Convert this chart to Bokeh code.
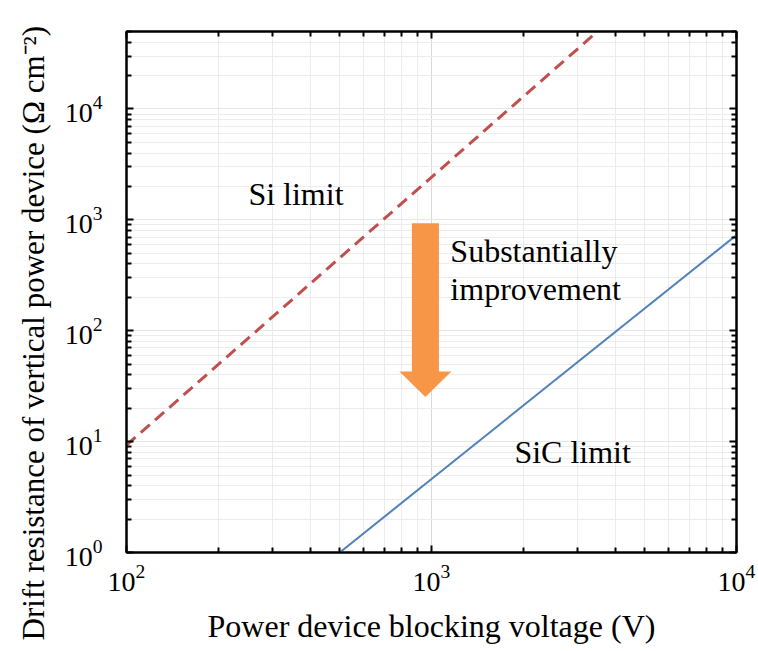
from bokeh.plotting import figure
from bokeh.models import (Range1d, LogAxis, FixedTicker, LogTickFormatter,
                          CustomJSTickFormatter, Label, Title)
from bokeh.embed import file_html
from bokeh.resources import INLINE

# Drift-layer resistance limits (Ω cm^-2) against blocking voltage (V)
si_voltage = [100, 3500]
si_resistance = [9.3, 50000]
sic_voltage = [500, 10000]
sic_resistance = [1.0, 730]

x_major = [1e2, 1e3, 1e4]
y_major = [1e0, 1e1, 1e2, 1e3, 1e4]
x_minor = [m * 10 ** k for k in range(2, 4) for m in range(2, 10)]
y_minor = [m * 10 ** k for k in range(0, 5) for m in range(2, 10) if m * 10 ** k <= 5e4]

# Improvement arrow: centre voltage, shaft top, head base and tip (resistance)
arrow_x = 955
arrow_top = 930
arrow_head_base = 43
arrow_tip = 25.3
shaft_half = 0.0443   # half widths in decades of voltage
head_half = 0.0852

FONT = "Liberation Serif"

p = figure(width=758, height=651, x_axis_type="log", y_axis_type="log",
           x_range=Range1d(100, 10000), y_range=Range1d(1, 5e4),
           output_backend="svg", toolbar_location=None,
           min_border_left=126, min_border_right=22,
           min_border_top=31, min_border_bottom=99)
p.outline_line_color = "black"
p.outline_line_width = 2
p.background_fill_color = "white"
p.border_fill_color = "white"


def style_axis(ax, ticks, minor, labelled=True):
    ax.ticker = FixedTicker(ticks=ticks, minor_ticks=minor)
    ax.axis_line_width = 2
    ax.axis_line_color = "black"
    ax.major_tick_in = 7
    ax.major_tick_out = 0
    ax.minor_tick_in = 5
    ax.minor_tick_out = 0
    ax.major_tick_line_width = 2
    ax.minor_tick_line_width = 2
    ax.major_tick_line_color = "black"
    ax.minor_tick_line_color = "black"
    if labelled:
        ax.formatter = LogTickFormatter()
        ax.major_label_text_font = FONT
        ax.major_label_text_font_size = "28px"
        ax.major_label_text_color = "black"
        ax.axis_label_text_font = FONT
        ax.axis_label_text_font_size = "32px"
        ax.axis_label_text_font_style = "normal"
        ax.axis_label_text_color = "black"
    else:
        ax.formatter = CustomJSTickFormatter(code="return ''")
        ax.major_label_standoff = 0


style_axis(p.xaxis[0], x_major, x_minor)
style_axis(p.yaxis[0], y_major, y_minor)
p.xaxis[0].axis_label = "Power device blocking voltage (V)"
p.xaxis[0].major_label_standoff = 12
p.xaxis[0].axis_label_standoff = 14
p.yaxis[0].major_label_standoff = 24

top_axis = LogAxis()
style_axis(top_axis, x_major, x_minor, labelled=False)
p.add_layout(top_axis, "above")
right_axis = LogAxis()
style_axis(right_axis, y_major, y_minor, labelled=False)
p.add_layout(right_axis, "right")

# Vertical title in the left panel, starting below the frame's bottom edge
y_title = Title(text="Drift resistance of vertical power device (Ω cm⁻²)",
                align="left", offset=-88, standoff=22,
                text_font=FONT, text_font_size="31px",
                text_font_style="normal", text_color="black")
p.add_layout(y_title, "left")

# Grid lines
p.xgrid.ticker = FixedTicker(ticks=x_major, minor_ticks=x_minor)
p.ygrid.ticker = FixedTicker(ticks=y_major, minor_ticks=y_minor)
p.xgrid.grid_line_color = "#d9d9d9"
p.xgrid.minor_grid_line_color = "#ececec"
p.ygrid.grid_line_color = "#e6e6e6"
p.ygrid.minor_grid_line_color = "#ececec"
for g in (p.xgrid, p.ygrid):
    g.grid_line_width = 1
    g.minor_grid_line_width = 1

# Material limits
p.line(si_voltage, si_resistance, line_color="#C0504D", line_width=3,
       line_dash="12 7")
p.line(sic_voltage, sic_resistance, line_color="#4F81BD", line_width=2)

# Downward arrow
lo_s, hi_s = 10 ** -shaft_half, 10 ** shaft_half
lo_h, hi_h = 10 ** -head_half, 10 ** head_half
arrow_xs = [arrow_x * lo_s, arrow_x * hi_s, arrow_x * hi_s, arrow_x * hi_h,
            arrow_x, arrow_x * lo_h, arrow_x * lo_s]
arrow_ys = [arrow_top, arrow_top, arrow_head_base, arrow_head_base,
            arrow_tip, arrow_head_base, arrow_head_base]
p.patch(arrow_xs, arrow_ys, fill_color="#F79646", line_color=None)

# Annotations
for text, x, y in [("Si limit", 251, 1710),
                   ("Substantially", 1153, 524),
                   ("improvement", 1153, 236),
                   ("SiC limit", 1870, 8.1)]:
    p.add_layout(Label(x=x, y=y, text=text, text_font=FONT,
                       text_font_size="32px", text_color="black",
                       text_baseline="alphabetic", text_align="left"))

open("out.html", "w").write(file_html(p, INLINE))
